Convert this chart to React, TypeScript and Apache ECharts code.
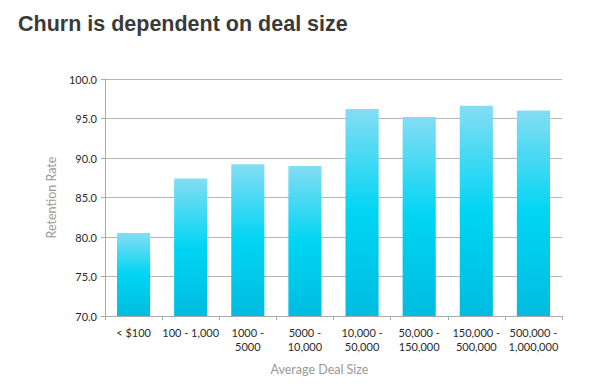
import React, { useEffect, useRef } from "react";
import * as echarts from "echarts";

const titleText = "Churn is dependent on deal size";
const categories = [
  "< $100",
  "100 - 1,000",
  "1000 -\n5000",
  "5000 -\n10,000",
  "10,000 -\n50,000",
  "50,000 -\n150,000",
  "150,000 -\n500,000",
  "500,000 -\n1,000,000",
];
const retention = [80.5, 87.4, 89.2, 89.0, 96.2, 95.2, 96.6, 96.0];
const yMin = 70;
const yMax = 100;
const yStep = 5;

export default function App() {
  const ref = useRef<HTMLDivElement>(null);
  useEffect(() => {
    if (!ref.current) return;
    const chart = echarts.init(ref.current, undefined, { renderer: "svg" });
    chart.setOption({
      animation: false,
      backgroundColor: "#ffffff",
      title: {
        text: titleText,
        left: 13,
        top: 8,
        textStyle: {
          fontFamily: "Liberation Sans, Arial, sans-serif",
          fontWeight: "bold",
          fontSize: 21.5,
          color: "#3a3a3a",
        },
      },
      grid: { left: 105, right: 36, top: 79, bottom: 70, containLabel: false },
      xAxis: {
        type: "category",
        data: categories,
        name: "Average Deal Size",
        nameLocation: "middle",
        nameGap: 47,
        nameTextStyle: {
          color: "#999",
          fontSize: 12.5,
          fontFamily: "Lato, sans-serif",
          verticalAlign: "top",
          padding: [0, 28, 0, 0],
        },
        axisLine: { show: true, lineStyle: { color: "#aaa" } },
        axisTick: { show: true, length: 4, lineStyle: { color: "#aaa" } },
        axisLabel: {
          interval: 0,
          color: "#2a2a2a",
          fontSize: 11,
          lineHeight: 14,
          margin: 9,
          fontFamily: "Lato, sans-serif",
        },
      },
      yAxis: {
        type: "value",
        min: yMin,
        max: yMax,
        interval: yStep,
        name: "Retention Rate",
        nameLocation: "middle",
        nameGap: 46,
        nameRotate: 90,
        nameTextStyle: { color: "#999", fontSize: 12.5, fontFamily: "Lato, sans-serif" },
        axisLine: { show: true, lineStyle: { color: "#aaa" } },
        axisTick: { show: true, length: 4, lineStyle: { color: "#aaa" } },
        splitLine: { show: true, lineStyle: { color: "#b5b5b5" } },
        axisLabel: {
          color: "#2a2a2a",
          fontSize: 11,
          margin: 8,
          fontFamily: "Lato, sans-serif",
          formatter: (v: number) => v.toFixed(1),
        },
      },
      series: [
        {
          type: "bar",
          data: retention,
          barWidth: "58%",
          itemStyle: {
            color: new echarts.graphic.LinearGradient(0, 0, 0, 1, [
              { offset: 0, color: "#84ddf3" },
              { offset: 0.5, color: "#00d5f3" },
              { offset: 1, color: "#00bce0" },
            ]),
          },
        },
      ],
    });
    return () => chart.dispose();
  }, []);
  return (
    <div
      ref={ref}
      style={{ position: "fixed", left: 0, top: 0, width: 598, height: 386 }}
    />
  );
}
